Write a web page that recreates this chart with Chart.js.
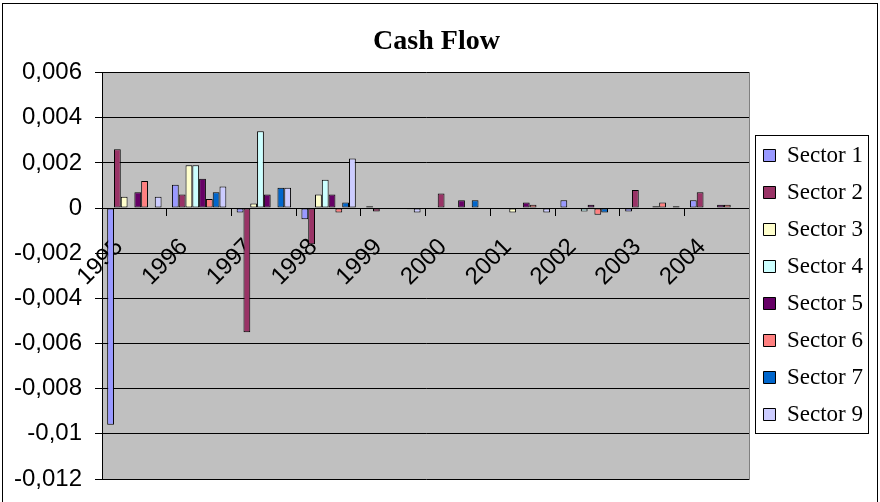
<!DOCTYPE html>
<html>
<head>
<meta charset="utf-8">
<title>Cash Flow</title>
<script src="https://cdn.jsdelivr.net/npm/chart.js"></script>
<style>
  body { margin: 0; background: #fff; }
  #chart { display: block; }
</style>
</head>
<body>
<canvas id="chart" width="880" height="502"></canvas>
<script>
// Values
const years = ['1995', '1996', '1997', '1998', '1999', '2000', '2001', '2002', '2003', '2004'];

const sector1 = [-0.0096, 0.00103, -0.0002, -0.0005, 0.00008, 0, 0, 0.00035, -0.00015, 0.00035];
const sector2 = [0.0026, 0.0006, -0.0055, -0.0016, -0.00015, 0.00065, 0, -0.00004, 0.0008, 0.0007];
const sector3 = [0.0005, 0.0019, 0.0002, 0.0006, 0, -0.00004, -0.0002, 0, -0.00004, 0];
const sector4 = [0, 0.0019, 0.0034, 0.00125, 0, -0.00004, -0.00004, -0.00015, 0, -0.00004];
const sector5 = [0.0007, 0.0013, 0.0006, 0.0006, 0, 0.00035, 0.00025, 0.00015, 0.00008, 0.00015];
const sector6 = [0.0012, 0.0004, 0, -0.0002, 0, 0, 0.00015, -0.0003, 0.00025, 0.00015];
const sector7 = [0, 0.0007, 0.0009, 0.00025, -0.00005, 0.00035, 0, -0.0002, -0.00004, 0];
const sector9 = [0.0005, 0.00095, 0.0009, 0.0022, -0.0002, -0.00004, -0.0002, -0.00004, 0.00008, 0];

// y axis ticks: -0,012 ... 0,006
const yMin = -0.012;
const yMax = 0.006;
const yStep = 0.002;

const series = [
  { label: 'Sector 1', data: sector1, color: '#9999ff' },
  { label: 'Sector 2', data: sector2, color: '#993366' },
  { label: 'Sector 3', data: sector3, color: '#ffffcc' },
  { label: 'Sector 4', data: sector4, color: '#ccffff' },
  { label: 'Sector 5', data: sector5, color: '#660066' },
  { label: 'Sector 6', data: sector6, color: '#ff8080' },
  { label: 'Sector 7', data: sector7, color: '#0066cc' },
  { label: 'Sector 9', data: sector9, color: '#ccccff' }
];

// Excel-like frame: white page, grey plot area, legend box and outer border
const framePlugin = {
  id: 'frame',
  beforeDraw(chart) {
    const { ctx, chartArea: a } = chart;
    ctx.save();
    ctx.fillStyle = '#fff';
    ctx.fillRect(0, 0, chart.width, chart.height);
    ctx.fillStyle = '#c0c0c0';
    ctx.fillRect(a.left, a.top, a.width, a.height);
    ctx.restore();
  },
  afterDraw(chart) {
    const { ctx, chartArea: a, legend } = chart;
    ctx.save();
    ctx.lineWidth = 1;

    // right edge of the plot area
    ctx.strokeStyle = '#808080';
    ctx.beginPath();
    ctx.moveTo(Math.round(a.right) + 0.5, a.top);
    ctx.lineTo(Math.round(a.right) + 0.5, a.bottom);
    ctx.stroke();

    // legend box
    const boxes = legend.legendHitBoxes;
    if (boxes && boxes.length) {
      const first = boxes[0];
      const last = boxes[boxes.length - 1];
      const left = Math.round(first.left - 8) + 0.5;
      const top = Math.round(first.top - 9) + 0.5;
      const bottom = Math.round(last.top + last.height + 7) + 0.5;
      ctx.strokeStyle = '#000';
      ctx.strokeRect(left, top, 113, bottom - top);
    }

    // chart border (bottom edge is off the picture)
    ctx.strokeStyle = '#000';
    ctx.strokeRect(2.5, 3.5, chart.width - 5, chart.height + 10);
    ctx.restore();
  }
};

function formatTick(value) {
  return String(Number(value.toFixed(6))).replace('.', ',');
}

new Chart(document.getElementById('chart'), {
  type: 'bar',
  data: {
    labels: years,
    datasets: series.map(s => ({
      label: s.label,
      data: s.data,
      backgroundColor: s.color,
      borderColor: '#000',
      borderWidth: 1,
      borderSkipped: false,
      categoryPercentage: 0.84,
      barPercentage: 1.0
    }))
  },
  options: {
    responsive: false,
    animation: false,
    events: [],
    devicePixelRatio: 1,
    layout: {
      padding: { left: 0, right: 7, top: 0, bottom: 23 }
    },
    scales: {
      x: {
        position: { y: 0 },
        offset: true,
        grid: {
          drawOnChartArea: false,
          drawTicks: true,
          tickLength: 7,
          offset: true,
          color: '#000'
        },
        border: { color: '#000' },
        ticks: {
          color: '#000',
          font: { family: 'Liberation Sans', size: 24 },
          minRotation: 45,
          maxRotation: 45,
          autoSkip: false,
          padding: 18,
          labelOffset: -15
        }
      },
      y: {
        min: yMin,
        max: yMax,
        grid: { color: '#000', tickLength: 7 },
        border: { color: '#000' },
        ticks: {
          stepSize: yStep,
          color: '#000',
          padding: 13,
          font: { family: 'Liberation Sans', size: 24 },
          callback: formatTick
        },
        afterFit(scale) {
          // fixed axis width; let layout padding decide the bottom margin
          scale.width = 102;
          scale.paddingTop = 0;
          scale.paddingBottom = 0;
        }
      }
    },
    plugins: {
      title: {
        display: true,
        text: 'Cash Flow',
        color: '#000',
        font: { family: 'Liberation Serif', size: 28, weight: 'bold' },
        padding: { top: 25, bottom: 14 }
      },
      legend: {
        position: 'right',
        fullSize: false,
        title: {
          display: true,
          text: '',
          font: { size: 12 },
          padding: { top: 2, bottom: 2 }
        },
        labels: {
          color: '#000',
          font: { family: 'Liberation Serif', size: 23 },
          boxWidth: 12,
          boxHeight: 12,
          padding: 14
        }
      },
      tooltip: { enabled: false }
    }
  },
  plugins: [framePlugin]
});
</script>
</body>
</html>
